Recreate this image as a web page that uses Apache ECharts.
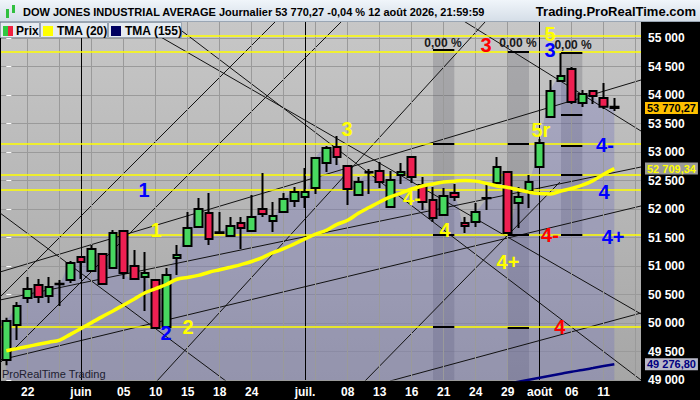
<!DOCTYPE html>
<html><head><meta charset="utf-8">
<script src="https://cdn.jsdelivr.net/npm/echarts/dist/echarts.min.js"></script>
<style>html,body{margin:0;padding:0;background:#000;}#c{width:700px;height:400px;}</style>
</head><body><div id="c"></div>
<script>
// ---------- DATA ----------
const dates = [
 '2026-05-20','2026-05-21','2026-05-22','2026-05-26','2026-05-27','2026-05-28','2026-05-29',
 '2026-06-01','2026-06-02','2026-06-03','2026-06-04','2026-06-05','2026-06-08','2026-06-09','2026-06-10','2026-06-11','2026-06-12',
 '2026-06-15','2026-06-16','2026-06-17','2026-06-18','2026-06-22','2026-06-23','2026-06-24','2026-06-25','2026-06-26','2026-06-29','2026-06-30',
 '2026-07-01','2026-07-02','2026-07-06','2026-07-07','2026-07-08','2026-07-09','2026-07-10','2026-07-13','2026-07-14','2026-07-15','2026-07-16','2026-07-17',
 '2026-07-20','2026-07-21','2026-07-22','2026-07-23','2026-07-24','2026-07-27','2026-07-28','2026-07-29','2026-07-30','2026-07-31',
 '2026-08-03','2026-08-04','2026-08-05','2026-08-06','2026-08-07','2026-08-10','2026-08-11','2026-08-12','2026-08-13','2026-08-14'];
const labelDates = ['2026-05-22','2026-06-01','2026-06-05','2026-06-10','2026-06-15','2026-06-18','2026-06-24','2026-07-01','2026-07-08','2026-07-13','2026-07-16','2026-07-21','2026-07-24','2026-07-29','2026-08-03','2026-08-06','2026-08-11'];
const labelTexts = ['22','juin','05','10','15','18','24','juil.','08','13','16','21','24','29','août','06','11'];
const monthStarts = ['2026-06-01','2026-07-01','2026-08-03'];

const opens  = [49350,49965,50439,50667,50474,50680,50754,51158,50912,51210,50965,51614,51000,50807,50754,49930,51140,51351,51684,51930,51579,51526,51754,51614,52000,51789,51947,52140,52210,52368,52807,53088,52754,52246,52649,52667,52035,52596,52912,52421,52158,51895,52281,51754,51772,52193,52456,52649,52105,52316,52737,53614,54246,54456,53860,54070,53947,53795];
const highs  = [50090,50368,50807,50772,50807,50754,51088,51175,51368,51230,51632,51632,51281,51246,50770,50965,51368,51947,52193,52281,51947,51860,51860,52246,52632,52123,52281,52386,52719,52910,53105,53281,52770,52561,52702,52825,52667,52807,52930,52561,52386,52368,52440,51860,52105,52456,52912,52660,52386,52596,53228,54263,54737,54491,54088,54088,54210,53947];
const lows   = [49260,49702,50351,50351,50351,50298,50702,50772,50895,50670,50950,50772,50754,50210,49900,49920,50842,51340,51675,51368,51570,51520,51298,51605,51860,51596,51930,52035,52018,52263,52649,52772,52070,52240,52263,52368,52030,52439,52456,51982,51772,51890,52140,51579,51684,51982,52450,51560,51667,52018,52730,53610,54228,53842,53789,53842,53754,53719];
const closes = [50035,50298,50596,50456,50632,50690,51053,51070,51298,50684,51579,50877,50772,50877,49912,50842,51193,51667,52000,51474,51590,51702,51667,51860,51912,51877,52175,52298,52298,52895,53070,52912,52351,52474,52640,52474,52509,52649,52561,52123,51842,52228,52210,51702,51947,52190,52737,51579,52210,52474,53158,54070,54333,53877,54018,53982,53792,53770.27];

const tma20 = [49514,49550,49588,49626,49663,49700,49800,49903,50007,50112,50212,50317,50422,50530,50602,50675,50768,50798,50835,50891,50935,50979,51025,51079,51149,51233,51303,51388,51475,51560,51626,51730,51802,51925,52025,52123,52211,52279,52351,52404,52440,52474,52488,52502,52489,52449,52404,52377,52339,52296,52270,52265,52314,52361,52417,52498,52610,52709.34];
const tma155 = [null,null,null,null,null,null,null,null,null,null,null,null,null,null,null,null,null,null,null,null,null,null,null,null,null,null,null,null,null,null,null,null,null,null,null,null,null,null,null,null,null,null,
 48770,48800,48830,48865,48900,48935,48970,49005,49040,49075,49110,49145,49175,49210,49245,49276.80];

// horizontal (yellow) levels
const levels = [55035,54754,53140,52596,52333,51544,49930];
// measurement bands: [fromIndex, toIndex, top, bottom]
const bands = [[40,42,54789,49000],[47,49,54754,49000],[52,54,54737,51544]];
const bandLevels = [[54789,53140,51544,49930],[54754,53140,51544,49912],[54737,53649,53105,52596,51544]];
// trend lines: [index1, price1, index2, price2]
const trendLines = [
 [15.35,55281,59.5,49000],[12.03,55281,59.5,50158],[42.72,55316,59.5,53368],[14.12,48982,44.88,55281],
 [33.62,48982,51.9,52474],[-0.59,50895,59.5,54263],[-0.59,50404,59.5,52737],[-0.59,49351,59.5,52053],
 [35.97,48982,59.5,50175],[-0.59,50456,25.19,55281],[-0.59,49298,31.38,55281],[-0.59,51930,20.59,48982]];
// annotations
const annTexts  = ['1','1','2','2','3','4-','4','4+','3','5','3','5r','4-','4','4-','4+','4','0,00 %','0,00 %','0,00 %'];
const annX      = [12.91,14.03,14.97,17.03,31.94,38.03,41.12,47.03,44.97,50.97,50.97,50.12,56.12,56.03,50.97,56.88,51.9,40.94,47.97,53.13];
const annY      = [52333,51632,49825,49930,53404,52193,51632,51070,54877,55070,54789,53386,53123,52298,51544,51509,49930,54912,54912,54877];
const annColors = ['#0000ff','#ffff00','#0000ff','#ffff00','#ffff00','#ffff00','#ffff00','#ffff00','#ff0000','#ffff00','#0000ff','#ffff00','#0000ff','#0000ff','#ff0000','#0000ff','#ff0000','#1a1a1a','#1a1a1a','#1a1a1a'];

// ---------- HELPERS ----------
const SANS = "'Liberation Sans',Arial,sans-serif";
const thou = s => String(s).replace(/\B(?=(\d{3})+(?!\d))/g,' ');
const fmtPrice = v => { const p = v.toFixed(2).split('.'); return thou(p[0]) + ',' + p[1]; };
const labelMap = {}; labelDates.forEach((d,i)=>labelMap[d]=labelTexts[i]);
const last = a => a[a.length-1];

const gridIdx = []; for (let i = 2; i < dates.length; i += 3) gridIdx.push(dates[i]);

const ML = {symbol:['none','none'], silent:true, animation:false, label:{show:false}};
const priceLabel = (v, bg, fg) => ({yAxis:v, lineStyle:{color:'rgba(0,0,0,0)'},
    label:{show:true, position:'end', distance:4, formatter:fmtPrice(v), backgroundColor:bg, color:fg,
      fontFamily:SANS, fontWeight:'bold', fontSize:11, padding:[1,2,0,2]}});

const chart = echarts.init(document.getElementById('c'), null, {renderer:'svg', width:700, height:400});

const series = [];
// area under price
series.push({type:'line', data:closes, smooth:0.3, symbol:'none', lineStyle:{width:0}, silent:true,
  areaStyle:{color:'rgba(105,105,192,0.42)', origin:'start'}, z:1, animation:false,
  markLine:Object.assign({}, ML, {data: gridIdx.map(d=>({xAxis:d, lineStyle:{color:'#9a9a9a', width:1, type:'solid'}}))
     .concat(monthStarts.map(d=>({xAxis:d, lineStyle:{color:'#000', width:1, type:'solid'}})))})
});
// bands and levels
series.push({type:'line', xAxisIndex:1, data:[], silent:true, animation:false, z:2,
  markArea:{silent:true, itemStyle:{color:'rgba(70,70,80,0.22)'},
    data: bands.map(b=>[{coord:[b[0], b[2]]},{coord:[b[1], b[3]]}])},
  markLine:Object.assign({}, ML, {data:
    levels.map(l=>[{coord:[-0.5,l], lineStyle:{color:'#ffff00', width:1.5, type:'solid'}},{coord:[59.5,l]}])
    .concat([].concat(...bands.map((b,k)=>bandLevels[k].map(l=>[{coord:[b[0],l], lineStyle:{color:'#000', width:2, type:'solid'}},{coord:[b[1],l]}]))))
  })
});
// trend lines
trendLines.forEach(t=>series.push({type:'line', xAxisIndex:1, data:[[t[0],t[1]],[t[2],t[3]]], symbol:'none', clip:true,
  lineStyle:{color:'#111', width:1}, silent:true, animation:false, z:3}));
// candles
series.push({type:'candlestick', data: opens.map((o,i)=>[o, closes[i], lows[i], highs[i]]), barWidth:8, z:5, animation:false,
  itemStyle:{color:'#48d860', color0:'#ee2052', borderColor:'#000', borderColor0:'#000', borderWidth:2},
  markLine:Object.assign({}, ML, {data:[priceLabel(last(closes), '#ffc000', '#000')]})
});
// TMA 20
series.push({type:'line', data:tma20, smooth:0.4, symbol:'none', lineStyle:{color:'#ffff00', width:3.5}, z:6, silent:true, animation:false,
  markLine:Object.assign({}, ML, {data:[priceLabel(last(tma20), '#9a9a9a', '#ffff00')]})
});
// TMA 155
series.push({type:'line', data:tma155, smooth:0.3, symbol:'none', lineStyle:{color:'#000080', width:2.5}, z:6, silent:true, animation:false,
  markLine:Object.assign({}, ML, {data:[priceLabel(last(tma155), '#b8b8c8', '#000080')]})
});
// annotations
series.push({type:'scatter', xAxisIndex:1, symbol:'circle', symbolSize:1, itemStyle:{color:'rgba(0,0,0,0)'}, z:8, silent:true, animation:false,
  data: annTexts.map((t,i)=>({value:[annX[i], annY[i]], label:{formatter:t, color:annColors[i],
     fontSize: t.indexOf('%')>=0 ? 12 : 20, fontWeight:'bold'}})),
  label:{show:true, position:'inside', fontFamily:SANS, opacity:1}
});

const headerGrad = new echarts.graphic.LinearGradient(0,0,0,1,[{offset:0,color:'#f0f5fa'},{offset:1,color:'#d4dde7'}]);
const legendBox = (x,w) => ({type:'rect', shape:{x:x+0.5,y:22.5,width:w,height:15}, style:{fill:'#e6ebf1', stroke:'#9aa4b0', lineWidth:1}, z:100});
const txt = (x,y,text,opt) => ({type:'text', x:x, y:y, style:Object.assign({text:text, fill:'#000', fontFamily:SANS, fontSize:12, fontWeight:'bold', verticalAlign:'middle', align:'left'}, opt||{}), z:101});

chart.setOption({
  backgroundColor:'#000',
  animation:false,
  grid:{left:1, right:59, top:9.5, bottom:20, show:true, borderWidth:0,
    backgroundColor:new echarts.graphic.LinearGradient(0,0,0,1,[{offset:0,color:'#c8c8c8'},{offset:1,color:'#a6a6a6'}])},
  xAxis:[
    {type:'category', data:dates, boundaryGap:true, axisLine:{show:false}, axisTick:{show:false}, splitLine:{show:false},
     axisLabel:{interval:0, color:'#fff', fontFamily:SANS, fontWeight:'bold', fontSize:12, margin:6, formatter:d=>labelMap[d]||''}},
    {type:'value', min:-0.5, max:59.5, show:false}
  ],
  yAxis:{type:'value', position:'right', min:49000, max:55500, interval:500,
    axisLine:{show:false}, axisTick:{show:true, length:5, lineStyle:{color:'#fff'}},
    axisLabel:{color:'#fff', fontFamily:SANS, fontWeight:'bold', fontSize:12, margin:7, formatter:v=> v>=55500 ? '' : thou(v)},
    splitLine:{lineStyle:{color:'#9a9a9a', width:1}}},
  series:series,
  graphic:[
    {type:'rect', shape:{x:0,y:0,width:700,height:22}, style:{fill:headerGrad}, z:100},
    {type:'line', shape:{x1:0,y1:21.5,x2:700,y2:21.5}, style:{stroke:'#9aa6b4', lineWidth:1}, z:100},
    {type:'rect', shape:{x:6,y:9,width:3,height:9}, style:{fill:'#30c040'}, z:101},
    {type:'rect', shape:{x:12,y:5,width:3,height:8}, style:{fill:'#30c040'}, z:101},
    txt(23, 11.5, 'DOW JONES INDUSTRIAL AVERAGE Journalier ' + fmtPrice(last(closes)) + ' -0,04 % 12 août 2026, 21:59:59', {fontSize:11}),
    txt(696, 11.5, 'Trading.ProRealTime.com', {align:'right', fontSize:13}),
    legendBox(0,39), legendBox(40,67), legendBox(108,73),
    {type:'rect', shape:{x:3,y:26,width:5,height:10}, style:{fill:'#30c840'}, z:101},
    {type:'rect', shape:{x:8,y:26,width:5,height:10}, style:{fill:'#f02040'}, z:101},
    {type:'rect', shape:{x:43,y:26,width:10,height:10}, style:{fill:'#ffff00'}, z:101},
    {type:'rect', shape:{x:111,y:26,width:10,height:10}, style:{fill:'#000060'}, z:101},
    txt(16, 30.5, 'Prix'), txt(57, 30.5, 'TMA (20)'), txt(125, 30.5, 'TMA (155)'),
    txt(2, 374, 'ProRealTime Trading', {fontWeight:'normal', fill:'#202030', fontSize:11})
  ]
});
</script></body></html>
